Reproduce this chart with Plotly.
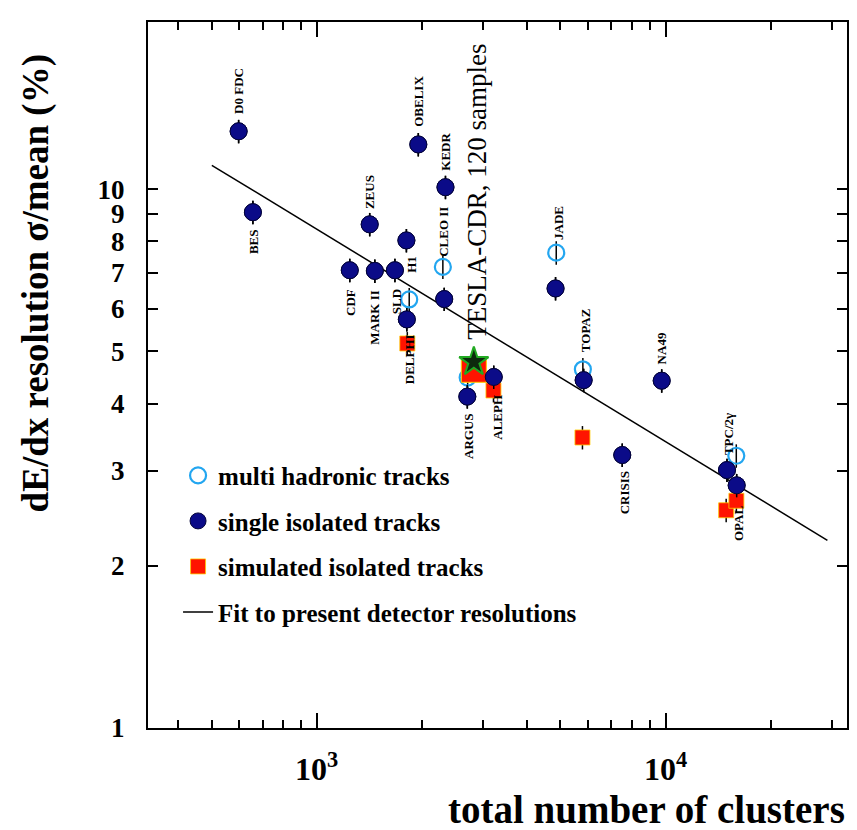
import math
import plotly.graph_objects as go

# ---------------- data ----------------
single_names = ["D0 FDC", "BES", "ZEUS", "CDF", "MARK II", "SLD", "H1", "OBELIX", "KEDR",
                "CLEO II", "DELPHI", "JADE", "ARGUS", "ALEPH", "TOPAZ", "NA49", "CRISIS",
                "TPC/2γ", "OPAL"]
single_clusters = [598, 657, 1420, 1245, 1469, 1677, 1809, 1957, 2341,
                   2322, 1814, 4840, 2704, 3219, 5826, 9750, 7516, 15000, 15990]
single_res = [12.8, 9.06, 8.6, 7.07, 7.05, 7.07, 8.03, 12.1, 10.08,
              6.25, 5.73, 6.54, 4.12, 4.48, 4.42, 4.41, 3.21, 3.01, 2.82]

multi_names = ["CLEO II", "SLD", "JADE", "ARGUS", "TOPAZ", "TPC/2γ"]
multi_clusters = [2301, 1843, 4862, 2710, 5796, 15950]
multi_res = [7.17, 6.24, 7.62, 4.47, 4.63, 3.20]

sim_names = ["DELPHI", "ALEPH", "TOPAZ", "OPAL", "OPAL"]
sim_clusters = [1820, 3213, 5780, 14920, 15960]
sim_res = [5.17, 4.23, 3.46, 2.535, 2.64]

tesla_clusters = [2823]
tesla_sim_res = [4.62]
tesla_star_res = [4.78]

fit_clusters = [501, 29100]
fit_res = [11.07, 2.23]

x_tickvals = [1000, 10000]
x_ticktext = ["10<sup>3</sup>", "10<sup>4</sup>"]
x_minor = [300, 400, 500, 600, 700, 800, 900, 2000, 3000, 4000, 5000, 6000, 7000,
           8000, 9000, 20000, 30000]
y_tickvals = [1, 2, 3, 4, 5, 6, 7, 8, 9, 10]
y_ticktext = ["1", "2", "3", "4", "5", "6", "7", "8", "9", "10"]

# label placement: (text, series, index, xshift, yshift)
labels = [
    ("D0 FDC", "single", 0, 0, 40),
    ("BES", "single", 1, 0, -29),
    ("ZEUS", "single", 2, 0, 32),
    ("CDF", "single", 3, 0, -32),
    ("MARK II", "single", 4, 0, -46),
    ("SLD", "single", 5, 1, -31),
    ("H1", "single", 6, 5, -24),
    ("OBELIX", "single", 7, 0, 43),
    ("KEDR", "single", 8, 0, 36),
    ("CLEO II", "multi", 0, 1, 35),
    ("DELPHI", "single", 10, 3, -40),
    ("JADE", "multi", 2, 2, 30),
    ("ARGUS", "single", 12, 1, -39),
    ("ALEPH", "single", 13, 3, -40),
    ("TOPAZ", "multi", 4, 2, 39),
    ("NA49", "single", 15, 0, 32),
    ("CRISIS", "single", 16, 2, -38),
    ("TPC/2γ", "multi", 5, -8, 22),
    ("OPAL", "single", 18, 2, -38),
]

SERIF = "Liberation Serif, Times New Roman, serif"
NAVY = "#0b0b88"
CYAN = "#23a6f0"
RED = "#ff1400"

err = dict(type="percent", value=5, color="black", thickness=1.5, width=0)

fig = go.Figure()

fig.add_trace(go.Scatter(
    x=multi_clusters, y=multi_res, text=multi_names, mode="markers",
    name="multi hadronic tracks", legendgroup="a",
    marker=dict(symbol="circle-open", size=16, color=CYAN, line=dict(width=2.2, color=CYAN)),
    error_y=err))

fig.add_trace(go.Scatter(
    x=single_clusters, y=single_res, text=single_names, mode="markers",
    name="single isolated tracks", legendgroup="b",
    marker=dict(symbol="circle", size=17, color=NAVY, line=dict(width=1, color="#04043a")),
    error_y=err))

fig.add_trace(go.Scatter(
    x=sim_clusters, y=sim_res, text=sim_names, mode="markers",
    name="simulated isolated tracks", legendgroup="c",
    marker=dict(symbol="square", size=15, color=RED, line=dict(width=0.8, color="#ffcc00")),
    error_y=err))

fig.add_trace(go.Scatter(
    x=tesla_clusters, y=tesla_sim_res, mode="markers", showlegend=False,
    marker=dict(symbol="square", size=25, color=RED, line=dict(width=1, color="#ffcc00"))))

fig.add_trace(go.Scatter(
    x=fit_clusters, y=fit_res, mode="lines",
    name="Fit to present detector resolutions", legendgroup="d",
    line=dict(color="black", width=1.5)))

# filled points redrawn above squares (no legend)
fig.add_trace(go.Scatter(
    x=single_clusters, y=single_res, mode="markers", showlegend=False, hoverinfo="skip",
    marker=dict(symbol="circle", size=17, color=NAVY, line=dict(width=1, color="#04043a")),
    error_y=err))

fig.add_trace(go.Scatter(
    x=tesla_clusters, y=tesla_star_res, mode="markers", showlegend=False,
    marker=dict(symbol="star", size=22, color="#0d2a0d", line=dict(width=2, color="#22aa22"))))

series = {"single": (single_clusters, single_res), "multi": (multi_clusters, multi_res)}
for text, s, i, dx, dy in labels:
    xs, ys = series[s]
    fig.add_annotation(x=math.log10(xs[i]), y=math.log10(ys[i]), xref="x", yref="y",
                       text=text, showarrow=False, textangle=-90,
                       xshift=dx, yshift=dy, xanchor="center", yanchor="middle",
                       font=dict(family=SERIF, size=13, color="black", weight="bold"))

fig.add_annotation(x=math.log10(tesla_clusters[0]), y=math.log10(tesla_sim_res[0]),
                   xref="x", yref="y", text="TESLA-CDR, 120 samples", showarrow=False,
                   textangle=-90, xshift=3, yshift=178, xanchor="center", yanchor="middle",
                   font=dict(family=SERIF, size=27, color="black"))

# axis titles
fig.add_annotation(x=-0.16, y=0.63, xref="paper", yref="paper",
                   text="dE/dx resolution σ/mean (%)", showarrow=False, textangle=-90,
                   xanchor="center", yanchor="middle",
                   font=dict(family=SERIF, size=37, color="black", weight="bold"))
fig.add_annotation(x=1.0, y=-0.116, xref="paper", yref="paper",
                   text="total number of clusters", showarrow=False,
                   xanchor="right", yanchor="middle",
                   font=dict(family=SERIF, size=39, color="black", weight="bold"))

fig.update_layout(
    width=857, height=830,
    margin=dict(l=140, r=18, t=14, b=110),
    paper_bgcolor="white", plot_bgcolor="white",
    showlegend=True,
    legend=dict(x=0.043, y=0.39, xanchor="left", yanchor="top",
                bgcolor="rgba(0,0,0,0)", tracegroupgap=10,
                font=dict(family=SERIF, size=25, color="black", weight="bold")),
    xaxis=dict(type="log", range=[2.517, 4.52], tickvals=x_tickvals, ticktext=x_ticktext,
               ticks="inside", ticklen=15, tickwidth=2, tickcolor="black",
               showline=True, linewidth=2, linecolor="black", mirror="ticks",
               showgrid=False, zeroline=False, ticklabelstandoff=12, automargin=False,
               tickfont=dict(family=SERIF, size=32, color="black", weight="bold"),
               minor=dict(tickvals=x_minor, ticks="inside", ticklen=8, tickwidth=1.5,
                          tickcolor="black", showgrid=False)),
    yaxis=dict(type="log", range=[0, 1.31], tickvals=y_tickvals, ticktext=y_ticktext,
               ticks="inside", ticklen=10, tickwidth=2, tickcolor="black",
               showline=True, linewidth=2, linecolor="black", mirror="ticks",
               showgrid=False, zeroline=False, ticklabelstandoff=16, automargin=False,
               tickfont=dict(family=SERIF, size=27, color="black", weight="bold")),
)

fig.write_html("out.html")
